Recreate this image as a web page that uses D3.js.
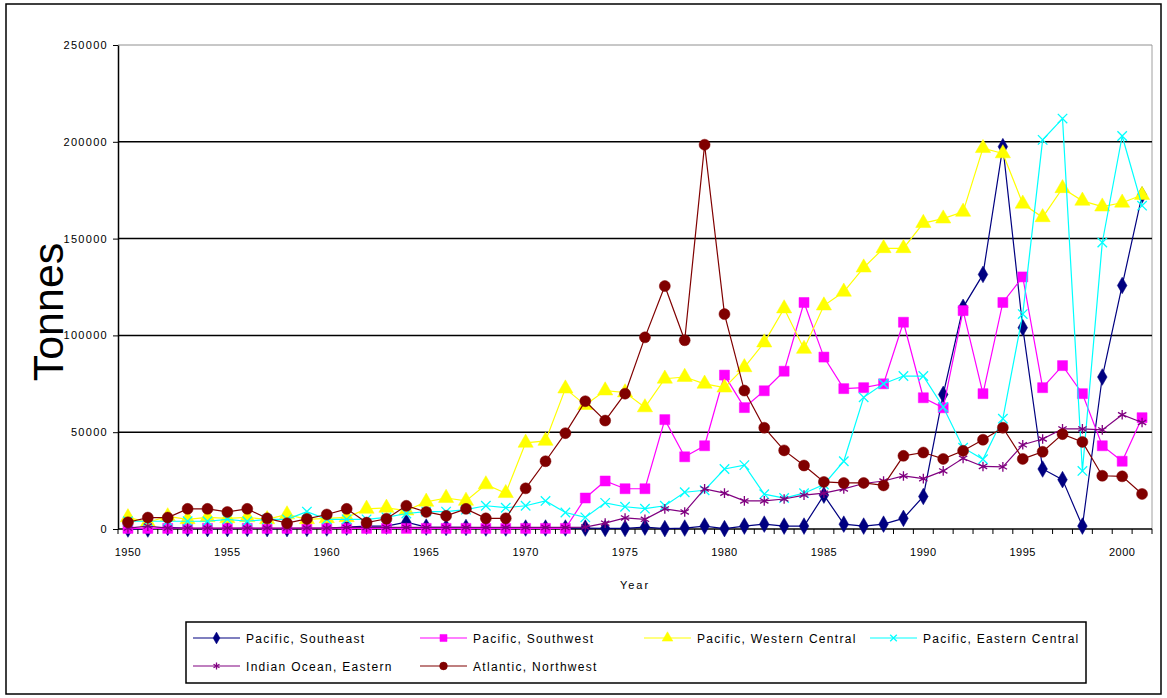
<!DOCTYPE html>
<html>
<head>
<meta charset="utf-8">
<script src="https://cdn.jsdelivr.net/npm/d3@7.9.0/dist/d3.min.js"></script>
<style>
  body { margin: 0; background: #fff; }
  svg text { font-family: "Liberation Sans", Arial, sans-serif; fill: #000; }
</style>
</head>
<body>
<svg id="chart" width="1167" height="698"></svg>
<script>
// categories
const years = d3.range(1950, 2002);
const xTickYears = [1950, 1955, 1960, 1965, 1970, 1975, 1980, 1985, 1990, 1995, 2000];
const yTicks = [0, 50000, 100000, 150000, 200000, 250000];

// series values (tonnes), 1950..2001
const pacificSoutheast = [0, 0, 800, 300, 200, 200, 300, 200, 200, 300, 500, 1000, 1500, 1500, 3500, 1000, 800, 800, 500, 500,
  500, 500, 500, 500, 300, 300, 1000, 200, 500, 1500, 200, 1500, 2500, 1500, 1500, 17500, 2500, 1500, 2500, 5500,
  16800, 69500, 114500, 131500, 197500, 104000, 31000, 25500, 1500, 78500, 125800, 172500];
const pacificSouthwest = [300, 300, 300, 300, 300, 300, 300, 300, 300, 300, 300, 300, 300, 300, 300, 300, 300, 300, 300, 300,
  300, 300, 300, 16000, 24800, 20800, 20800, 56500, 37300, 43000, 79500, 62700, 71400, 81500, 117000, 88800, 72500, 73000, 75000, 106800,
  67800, 62600, 112800, 69900, 117000, 130200, 73000, 84400, 69900, 43000, 35000, 57500];
const pacificWesternCentral = [6000, 3500, 6500, 5000, 6000, 5500, 6000, 5000, 7500, 5000, 5500, 6000, 10400, 10900, 9500, 14000, 16000, 14500, 23000, 18500,
  44500, 45500, 72500, 64000, 71500, 70500, 62800, 77600, 78500, 75000, 73000, 83500, 96300, 113900, 93000, 115400, 122500, 135000, 145000, 145000,
  158000, 160300, 163800, 196700, 194000, 168000, 161000, 176000, 169500, 166500, 168500, 172500];
const pacificEasternCentral = [4000, 4000, 4000, 4000, 4000, 5000, 4000, 5000, 5000, 9000, 5000, 5000, 5000, 6000, 8000, 9000, 9000, 10000, 12000, 11000,
  12000, 14500, 8500, 6000, 13500, 11500, 10500, 12000, 19000, 20000, 31000, 33000, 18000, 16000, 18500, 23000, 35000, 68000, 75000, 79000,
  79000, 63000, 42000, 36000, 57000, 111000, 201000, 212000, 30000, 148000, 203000, 167000];
const indianOceanEastern = [500, 1500, 500, 500, 500, 500, 500, 500, 500, 500, 500, 800, 800, 800, 800, 800, 800, 800, 800, 800,
  800, 800, 800, 1000, 3000, 5700, 5000, 10400, 8800, 20700, 18500, 14500, 14500, 15500, 17500, 18500, 20700, 23500, 24800, 27400,
  26000, 30000, 36500, 32300, 32100, 43500, 46500, 51700, 51700, 51200, 59000, 55000];
const atlanticNorthwest = [3500, 5900, 5900, 10400, 10400, 8800, 10400, 5500, 3000, 5200, 7500, 10400, 3300, 5300, 12000, 8800, 6800, 10400, 5500, 5500,
  21000, 35000, 49500, 66000, 56000, 69900, 99000, 125500, 97500, 198500, 111000, 71500, 52300, 40600, 32800, 24300, 23800, 23800, 22500, 37800,
  39500, 36200, 40400, 46100, 52300, 36200, 39900, 49000, 45000, 27500, 27200, 18100];

const seriesNames = ["Pacific, Southeast", "Pacific, Southwest", "Pacific, Western Central",
  "Pacific, Eastern Central", "Indian Ocean, Eastern", "Atlantic, Northwest"];

const series = [
  { name: seriesNames[0], values: pacificSoutheast, color: "#000080", line: "#000080", symbol: d3.symbolDiamond, size: 80, filled: true },
  { name: seriesNames[1], values: pacificSouthwest, color: "#ff00ff", line: "#ff00ff", symbol: d3.symbolSquare, size: 100, filled: true },
  { name: seriesNames[2], values: pacificWesternCentral, color: "#ffff00", line: "#ffff00", symbol: d3.symbolTriangle, size: 100, filled: true },
  { name: seriesNames[3], values: pacificEasternCentral, color: "#00ffff", line: "#00ffff", symbol: d3.symbolTimes, size: 60, filled: false },
  { name: seriesNames[4], values: indianOceanEastern, color: "#800080", line: "#800080", symbol: d3.symbolAsterisk, size: 65, filled: false },
  { name: seriesNames[5], values: atlanticNorthwest, color: "#800000", line: "#800000", symbol: d3.symbolCircle, size: 95, filled: true }
];

const svg = d3.select("#chart");
const plotLeft = 118, plotRight = 1152, plotTop = 45, plotBottom = 529;

// outer chart border
svg.append("rect").attr("x", 6).attr("y", 4).attr("width", 1155).attr("height", 690)
  .attr("fill", "#fff").attr("stroke", "#000").attr("stroke-width", 1.5);

const x = d3.scaleBand().domain(years).range([plotLeft, plotRight]).padding(0);
const y = d3.scaleLinear().domain([0, 250000]).range([plotBottom, plotTop]);

// plot area border (grey) + gridlines
svg.append("line").attr("x1", plotRight).attr("x2", plotRight).attr("y1", plotTop).attr("y2", plotBottom)
  .attr("stroke", "#a0a0a0").attr("stroke-width", 1);
svg.append("g").selectAll("line").data(yTicks.filter(d => d > 0)).join("line")
  .attr("x1", plotLeft).attr("x2", plotRight)
  .attr("y1", d => y(d)).attr("y2", d => y(d))
  .attr("stroke", d => d === 250000 ? "#909090" : "#000")
  .attr("stroke-width", d => d === 250000 ? 1 : 1.5);

// y axis
const yAxis = svg.append("g").attr("transform", `translate(${plotLeft},0)`)
  .call(d3.axisLeft(y).tickValues(yTicks).tickSize(5).tickSizeOuter(0).tickFormat(d3.format("d")));
yAxis.select(".domain").attr("stroke", "#000").attr("stroke-width", 1.5);
yAxis.selectAll(".tick line").attr("stroke", "#000");
yAxis.selectAll(".tick text").attr("font-size", 11).attr("letter-spacing", "1.3px").attr("x", -10);

// x axis: ticks between categories, labels every 5 years
const xg = svg.append("g");
xg.append("line").attr("x1", plotLeft).attr("x2", plotRight).attr("y1", plotBottom).attr("y2", plotBottom)
  .attr("stroke", "#000").attr("stroke-width", 1.5);
xg.selectAll("line.tk").data(years.concat([null])).join("line").attr("class", "tk")
  .attr("x1", (d, i) => plotLeft + i * x.bandwidth()).attr("x2", (d, i) => plotLeft + i * x.bandwidth())
  .attr("y1", plotBottom).attr("y2", plotBottom + 5).attr("stroke", "#000");
xg.selectAll("text").data(xTickYears).join("text")
  .attr("x", d => x(d) + x.bandwidth() / 2).attr("y", plotBottom + 27)
  .attr("text-anchor", "middle").attr("font-size", 11).attr("letter-spacing", "0.5px")
  .text(d => d);

// axis titles
svg.append("text").attr("x", (plotLeft + plotRight) / 2).attr("y", 589).attr("text-anchor", "middle")
  .attr("font-size", 11).attr("letter-spacing", "2px").text("Year");
svg.append("text").attr("transform", "translate(63,312) rotate(-90)").attr("text-anchor", "middle")
  .attr("font-size", 43).text("Tonnes");

// series
const cx = d => x(d) + x.bandwidth() / 2;
const lineGen = d3.line().x((d, i) => cx(years[i])).y(d => y(d));

series.forEach(s => {
  const g = svg.append("g");
  g.append("path").attr("d", lineGen(s.values)).attr("fill", "none")
    .attr("stroke", s.line).attr("stroke-width", 1.2);
  g.selectAll("path.m").data(s.values).join("path").attr("class", "m")
    .attr("transform", (d, i) => `translate(${cx(years[i])},${y(d)})`)
    .attr("d", d3.symbol(s.symbol, s.size))
    .attr("fill", s.filled ? s.color : "none")
    .attr("stroke", s.color).attr("stroke-width", s.filled ? 0.5 : 1.3);
});

// legend
const legend = svg.append("g");
legend.append("rect").attr("x", 186).attr("y", 622).attr("width", 900).attr("height", 61)
  .attr("fill", "#fff").attr("stroke", "#000").attr("stroke-width", 1.5);
const colX = [193, 420, 644, 870];
const rowY = [638, 666];
series.forEach((s, i) => {
  const lx = colX[i % 4], ly = rowY[Math.floor(i / 4)];
  const item = legend.append("g").attr("transform", `translate(${lx},${ly})`);
  item.append("line").attr("x1", 0).attr("x2", 47).attr("y1", 0).attr("y2", 0)
    .attr("stroke", s.line).attr("stroke-width", 1.2);
  item.append("path").attr("transform", "translate(23.5,0)")
    .attr("d", d3.symbol(s.symbol, s.size * 0.5))
    .attr("fill", s.filled ? s.color : "none").attr("stroke", s.color)
    .attr("stroke-width", s.filled ? 0.5 : 1.3);
  item.append("text").attr("x", 53).attr("y", 4.5).attr("font-size", 12)
    .attr("letter-spacing", "1.3px").text(s.name);
});
</script>
</body>
</html>
